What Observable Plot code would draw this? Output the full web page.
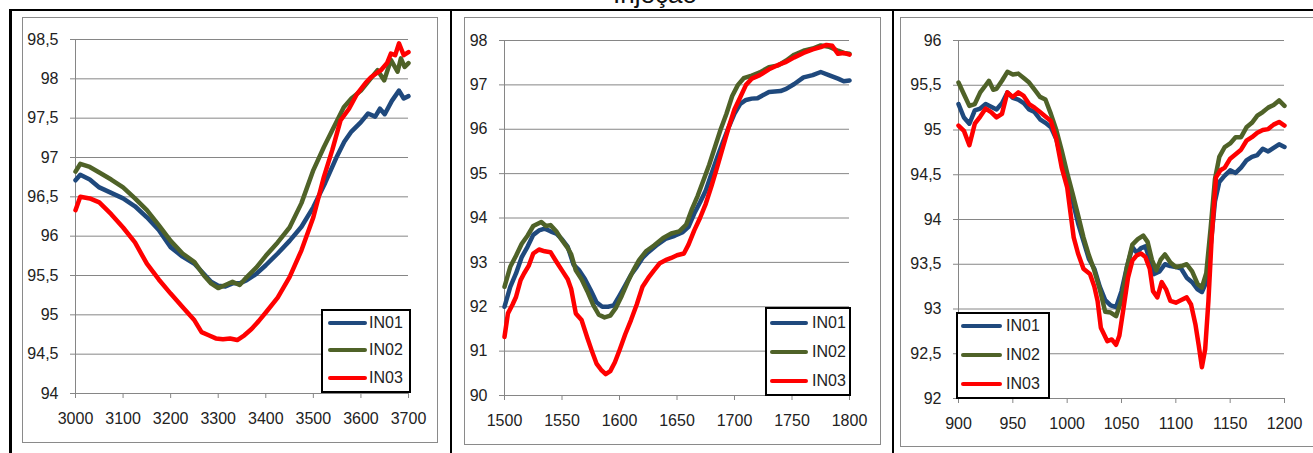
<!DOCTYPE html>
<html>
<head>
<meta charset="utf-8">
<script src="https://cdn.jsdelivr.net/npm/d3@7"></script>
<script src="https://cdn.jsdelivr.net/npm/@observablehq/plot@0.6"></script>
<style>
  html, body { margin: 0; padding: 0; background: #fff; }
  #root { position: relative; width: 1313px; height: 453px; overflow: hidden; background: #fff; font-family: "Liberation Sans", Arial, sans-serif; }
  .abs { position: absolute; }
  .frame { position: absolute; border: 1px solid #8a8a8a; box-sizing: border-box; background: #fff; }
  .legend { position: absolute; border: 2px solid #000; box-sizing: border-box; background: #fff; }
  .legend .ln { position: absolute; height: 4px; border-radius: 2px; }
  .legend .tx { position: absolute; font-size: 16px; line-height: 18px; color: #222; }
</style>
</head>
<body>
<div id="root"></div>
<script>
// ---------- DATA ----------
const seriesNames = ["IN01", "IN02", "IN03"];
const seriesColors = ["#1F497D", "#4F6228", "#FF0000"];
const titleText = "Injeção";

// Panel 1 (3000–3700)
const p1XTicks = [3000, 3100, 3200, 3300, 3400, 3500, 3600, 3700];
const p1YTicks = [94, 94.5, 95, 95.5, 96, 96.5, 97, 97.5, 98, 98.5];
const p1X_IN01 = [3000, 3010, 3030, 3050, 3075, 3100, 3125, 3150, 3175, 3200, 3225, 3250, 3270, 3285, 3300, 3315, 3330, 3345, 3360, 3380, 3400, 3425, 3450, 3475, 3500, 3525, 3550, 3565, 3580, 3600, 3615, 3630, 3640, 3650, 3665, 3680, 3690, 3700];
const p1Y_IN01 = [96.71, 96.78, 96.72, 96.62, 96.55, 96.48, 96.38, 96.24, 96.08, 95.86, 95.74, 95.65, 95.52, 95.42, 95.37, 95.36, 95.40, 95.40, 95.44, 95.52, 95.63, 95.78, 95.94, 96.12, 96.37, 96.68, 97.02, 97.20, 97.33, 97.45, 97.56, 97.52, 97.62, 97.55, 97.72, 97.85, 97.75, 97.78];
const p1X_IN02 = [3000, 3010, 3030, 3050, 3075, 3100, 3125, 3150, 3175, 3200, 3225, 3250, 3270, 3285, 3300, 3315, 3330, 3345, 3360, 3380, 3400, 3425, 3450, 3475, 3500, 3522, 3540, 3564, 3580, 3600, 3620, 3635, 3649, 3663, 3677, 3684, 3692, 3700];
const p1Y_IN02 = [96.82, 96.92, 96.88, 96.81, 96.72, 96.62, 96.48, 96.33, 96.14, 95.94, 95.78, 95.67, 95.50, 95.40, 95.34, 95.38, 95.42, 95.38, 95.48, 95.60, 95.75, 95.92, 96.11, 96.42, 96.84, 97.13, 97.35, 97.64, 97.75, 97.85, 98.00, 98.11, 97.98, 98.24, 98.09, 98.26, 98.15, 98.20];
const p1X_IN03 = [3000, 3010, 3030, 3050, 3075, 3100, 3125, 3150, 3175, 3200, 3225, 3250, 3265, 3280, 3295, 3310, 3325, 3340, 3355, 3370, 3385, 3400, 3425, 3450, 3475, 3500, 3522, 3540, 3557, 3575, 3592, 3610, 3621, 3642, 3655, 3663, 3672, 3680, 3690, 3700];
const p1Y_IN03 = [96.33, 96.50, 96.48, 96.43, 96.28, 96.11, 95.92, 95.65, 95.45, 95.27, 95.10, 94.93, 94.78, 94.74, 94.70, 94.69, 94.70, 94.68, 94.74, 94.82, 94.92, 95.03, 95.22, 95.48, 95.82, 96.24, 96.75, 97.10, 97.47, 97.62, 97.81, 97.95, 98.02, 98.11, 98.20, 98.32, 98.30, 98.45, 98.30, 98.34];

// Panel 2 (1500–1800)
const p2XTicks = [1500, 1550, 1600, 1650, 1700, 1750, 1800];
const p2YTicks = [90, 91, 92, 93, 94, 95, 96, 97, 98];
const p2X_IN01 = [1500, 1505, 1510, 1515, 1520, 1525, 1530, 1535, 1540, 1545, 1550, 1555, 1560, 1565, 1570, 1575, 1580, 1585, 1590, 1595, 1600, 1605, 1610, 1615, 1620, 1625, 1632, 1640, 1648, 1655, 1660, 1665, 1670, 1675, 1680, 1685, 1690, 1695, 1700, 1705, 1710, 1715, 1720, 1730, 1740, 1745, 1752, 1760, 1768, 1775, 1782, 1790, 1795, 1800];
const p2Y_IN01 = [92.0, 92.45, 92.75, 93.12, 93.35, 93.62, 93.72, 93.76, 93.70, 93.65, 93.52, 93.35, 92.95, 92.82, 92.62, 92.37, 92.10, 92.00, 92.0, 92.03, 92.25, 92.48, 92.72, 92.90, 93.10, 93.23, 93.38, 93.53, 93.60, 93.68, 93.80, 94.10, 94.35, 94.62, 95.0, 95.37, 95.72, 96.05, 96.35, 96.57, 96.66, 96.69, 96.70, 96.84, 96.86, 96.91, 97.02, 97.17, 97.22, 97.29, 97.22, 97.14, 97.08, 97.10];
const p2X_IN02 = [1500, 1505, 1510, 1515, 1520, 1525, 1532, 1536, 1540, 1545, 1550, 1555, 1558, 1562, 1567, 1572, 1577, 1582, 1587, 1592, 1597, 1602, 1607, 1612, 1617, 1623, 1630, 1638, 1645, 1652, 1658, 1663, 1668, 1673, 1678, 1683, 1688, 1693, 1698, 1703, 1708, 1715, 1722, 1730, 1738, 1745, 1752, 1760, 1768, 1775, 1782, 1790, 1795, 1800];
const p2Y_IN02 = [92.45, 92.90, 93.15, 93.42, 93.60, 93.82, 93.91, 93.82, 93.84, 93.70, 93.50, 93.32, 93.18, 92.82, 92.62, 92.35, 92.05, 91.82, 91.76, 91.80, 91.98, 92.25, 92.55, 92.82, 93.05, 93.25, 93.38, 93.55, 93.65, 93.70, 93.85, 94.20, 94.50, 94.85, 95.20, 95.60, 96.00, 96.35, 96.75, 97.00, 97.15, 97.21, 97.28, 97.40, 97.44, 97.55, 97.68, 97.77, 97.82, 97.89, 97.86, 97.77, 97.72, 97.70];
const p2X_IN03 = [1500, 1503, 1507, 1510, 1514, 1517, 1521, 1525, 1530, 1535, 1540, 1545, 1550, 1555, 1558, 1562, 1567, 1572, 1576, 1580, 1584, 1588, 1592, 1596, 1600, 1605, 1610, 1615, 1620, 1625, 1630, 1635, 1640, 1645, 1650, 1656, 1660, 1665, 1670, 1675, 1680, 1685, 1690, 1695, 1700, 1705, 1710, 1715, 1722, 1730, 1738, 1745, 1752, 1760, 1768, 1775, 1780, 1785, 1790, 1795, 1800];
const p2Y_IN03 = [91.32, 91.85, 92.05, 92.22, 92.60, 92.75, 92.92, 93.20, 93.29, 93.25, 93.23, 93.02, 92.82, 92.62, 92.40, 91.85, 91.70, 91.30, 91.00, 90.72, 90.58, 90.48, 90.55, 90.75, 91.02, 91.38, 91.70, 92.05, 92.45, 92.65, 92.82, 92.98, 93.05, 93.10, 93.16, 93.20, 93.40, 93.72, 94.00, 94.32, 94.72, 95.15, 95.60, 96.05, 96.45, 96.72, 97.00, 97.14, 97.22, 97.35, 97.45, 97.52, 97.62, 97.72, 97.80, 97.85, 97.90, 97.88, 97.70, 97.72, 97.68];

// Panel 3 (900–1200)
const p3XTicks = [900, 950, 1000, 1050, 1100, 1150, 1200];
const p3YTicks = [92, 92.5, 93, 93.5, 94, 94.5, 95, 95.5, 96];
const p3X_IN01 = [900, 905, 910, 915, 920, 925, 930, 935, 940, 945, 950, 955, 960, 965, 970, 975, 980, 985, 990, 995, 1000, 1005, 1010, 1015, 1020, 1025, 1030, 1035, 1040, 1045, 1050, 1055, 1060, 1064, 1068, 1072, 1076, 1080, 1085, 1090, 1095, 1100, 1105, 1110, 1115, 1120, 1124, 1128, 1132, 1136, 1140, 1145, 1150, 1155, 1160, 1165, 1170, 1175, 1180, 1185, 1190, 1195, 1200];
const p3Y_IN01 = [95.29, 95.14, 95.07, 95.22, 95.24, 95.29, 95.26, 95.23, 95.30, 95.42, 95.36, 95.34, 95.30, 95.23, 95.20, 95.12, 95.08, 95.03, 94.90, 94.66, 94.42, 94.21, 93.96, 93.76, 93.56, 93.45, 93.25, 93.10, 93.04, 93.02, 93.20, 93.47, 93.69, 93.63, 93.68, 93.70, 93.55, 93.39, 93.42, 93.50, 93.48, 93.47, 93.45, 93.35, 93.30, 93.22, 93.19, 93.30, 93.70, 94.20, 94.42, 94.49, 94.55, 94.52, 94.58, 94.66, 94.70, 94.72, 94.79, 94.76, 94.80, 94.84, 94.81];
const p3X_IN02 = [900, 905, 910, 915, 920, 925, 928, 932, 935, 940, 945, 950, 955, 960, 965, 970, 975, 980, 985, 990, 995, 1000, 1005, 1010, 1015, 1020, 1025, 1030, 1035, 1040, 1045, 1050, 1055, 1060, 1065, 1070, 1074, 1078, 1082, 1086, 1090, 1095, 1100, 1105, 1110, 1115, 1120, 1124, 1128, 1132, 1136, 1140, 1145, 1150, 1155, 1160, 1165, 1170, 1175, 1180, 1185, 1190, 1195, 1200];
const p3Y_IN02 = [95.53, 95.40, 95.27, 95.29, 95.42, 95.50, 95.55, 95.45, 95.46, 95.55, 95.65, 95.62, 95.63, 95.58, 95.53, 95.45, 95.37, 95.34, 95.18, 95.00, 94.77, 94.52, 94.29, 94.05, 93.80, 93.60, 93.43, 93.22, 92.97, 92.96, 92.92, 93.10, 93.47, 93.72, 93.78, 93.82, 93.75, 93.55, 93.43, 93.55, 93.61, 93.52, 93.47, 93.48, 93.50, 93.42, 93.28, 93.24, 93.40, 93.90, 94.45, 94.70, 94.81, 94.85, 94.92, 94.92, 95.03, 95.08, 95.16, 95.20, 95.25, 95.28, 95.33, 95.27];
const p3X_IN03 = [900, 905, 910, 915, 920, 925, 930, 935, 940, 945, 950, 955, 960, 965, 970, 975, 980, 985, 990, 995, 1000, 1006, 1010, 1015, 1021, 1025, 1028, 1031, 1037, 1041, 1045, 1048, 1052, 1056, 1060, 1064, 1068, 1072, 1076, 1079, 1083, 1087, 1091, 1095, 1100, 1105, 1110, 1114, 1118, 1121, 1124, 1127, 1130, 1133, 1137, 1141, 1145, 1150, 1155, 1160, 1165, 1170, 1175, 1180, 1185, 1190, 1195, 1200];
const p3Y_IN03 = [95.05, 94.99, 94.83, 95.07, 95.15, 95.24, 95.20, 95.14, 95.18, 95.42, 95.37, 95.42, 95.38, 95.29, 95.25, 95.20, 95.15, 95.10, 94.90, 94.58, 94.36, 93.80, 93.62, 93.45, 93.39, 93.25, 93.09, 92.79, 92.64, 92.66, 92.60, 92.70, 93.02, 93.35, 93.54, 93.60, 93.62, 93.58, 93.45, 93.20, 93.13, 93.30, 93.22, 93.09, 93.07, 93.10, 93.13, 93.05, 92.83, 92.60, 92.35, 92.55, 93.09, 93.80, 94.47, 94.55, 94.58, 94.68, 94.73, 94.78, 94.88, 94.92, 94.97, 95.00, 95.01, 95.06, 95.09, 95.05];

// ---------- RENDER ----------
const root = document.getElementById("root");
const fmt = d => String(d).replace(".", ",");
const GRID = "#868686";

function addDiv(cls, css, html) {
  const el = document.createElement("div");
  el.className = cls;
  Object.assign(el.style, css);
  if (html != null) el.textContent = html;
  root.appendChild(el);
  return el;
}

function toRows(xs, ys, name) { return xs.map((x, i) => ({x, y: ys[i], s: name})); }

function panel(cfg) {
  addDiv("frame", {left: cfg.frame[0] + "px", top: cfg.frame[1] + "px", width: cfg.frame[2] + "px", height: cfg.frame[3] + "px"});
  const data = [
    ...toRows(cfg.xs[0], cfg.ys[0], seriesNames[0]),
    ...toRows(cfg.xs[1], cfg.ys[1], seriesNames[1]),
    ...toRows(cfg.xs[2], cfg.ys[2], seriesNames[2])
  ];
  const chart = Plot.plot({
    width: cfg.w, height: cfg.h,
    marginLeft: cfg.m[0], marginRight: cfg.m[1], marginTop: cfg.m[2], marginBottom: cfg.m[3],
    style: {fontFamily: "Liberation Sans, Arial, sans-serif", fontSize: "16px", color: "#222", background: "transparent", overflow: "visible"},
    x: {domain: cfg.xd, label: null},
    y: {domain: cfg.yd, label: null},
    color: {domain: seriesNames, range: seriesColors},
    marks: [
      Plot.gridY(cfg.yt, {stroke: GRID, strokeOpacity: 1, strokeWidth: 1}),
      Plot.ruleX([cfg.xd[0]], {stroke: GRID, strokeWidth: 1}),
      Plot.axisY({ticks: cfg.yt, tickSize: 5, tickPadding: 12, tickFormat: fmt, stroke: GRID, fill: "#222", label: null}),
      Plot.axisX({ticks: cfg.xt, tickSize: 5, tickPadding: 14, tickFormat: d => String(d), stroke: GRID, fill: "#222", label: null}),
      Plot.line(data, {x: "x", y: "y", z: "s", stroke: "s", strokeWidth: 4.5, strokeLinejoin: "round", strokeLinecap: "round"})
    ]
  });
  chart.style.position = "absolute";
  chart.style.left = cfg.pos[0] + "px";
  chart.style.top = cfg.pos[1] + "px";
  root.appendChild(chart);

  const lg = cfg.legend;
  const box = addDiv("legend", {left: lg.box[0] + "px", top: lg.box[1] + "px", width: lg.box[2] + "px", height: lg.box[3] + "px"});
  seriesNames.forEach((n, i) => {
    const ln = document.createElement("div");
    ln.className = "ln";
    Object.assign(ln.style, {left: lg.lx + "px", width: lg.lw + "px", top: (lg.rows[i] - 2) + "px", background: seriesColors[i]});
    box.appendChild(ln);
    const tx = document.createElement("div");
    tx.className = "tx";
    Object.assign(tx.style, {left: lg.tx + "px", top: (lg.rows[i] - 9) + "px"});
    tx.textContent = n;
    box.appendChild(tx);
  });
}

// title (cut off at the top, as in the source)
addDiv("abs", {left: "600px", top: "-19px", width: "110px", textAlign: "center", fontSize: "26px", lineHeight: "26px", color: "#111", fontFamily: "Liberation Sans, Arial, sans-serif"}, titleText);

// table lines
addDiv("abs", {left: "9px", top: "9px", width: "1304px", height: "2px", background: "#000"});
addDiv("abs", {left: "9px", top: "9px", width: "3px", height: "444px", background: "#000"});
addDiv("abs", {left: "450px", top: "9px", width: "2px", height: "444px", background: "#000"});
addDiv("abs", {left: "892px", top: "9px", width: "2px", height: "444px", background: "#000"});

panel({
  frame: [22, 17, 416, 426], pos: [23, 17], w: 415, h: 426, m: [52, 30, 22, 50],
  xd: [3000, 3700], yd: [94, 98.5], xt: p1XTicks, yt: p1YTicks,
  xs: [p1X_IN01, p1X_IN02, p1X_IN03], ys: [p1Y_IN01, p1Y_IN02, p1Y_IN03],
  legend: {box: [321, 309, 90, 84], lx: 5, lw: 39, tx: 46, rows: [12, 39, 66.5]}
});
panel({
  frame: [464, 17, 417, 428], pos: [465, 17], w: 415, h: 427, m: [39, 31, 23, 49],
  xd: [1500, 1800], yd: [90, 98], xt: p2XTicks, yt: p2YTicks,
  xs: [p2X_IN01, p2X_IN02, p2X_IN03], ys: [p2Y_IN01, p2Y_IN02, p2Y_IN03],
  legend: {box: [765, 307, 86, 89], lx: 3, lw: 38, tx: 45, rows: [14, 43, 72]}
});
panel({
  frame: [900, 17, 416, 430], pos: [900, 17], w: 415, h: 430, m: [58, 31, 23, 49],
  xd: [900, 1200], yd: [92, 96], xt: p3XTicks, yt: p3YTicks,
  xs: [p3X_IN01, p3X_IN02, p3X_IN03], ys: [p3Y_IN01, p3Y_IN02, p3Y_IN03],
  legend: {box: [956, 312, 94, 87], lx: 3, lw: 41, tx: 48, rows: [12, 41, 70]}
});
</script>
</body>
</html>
